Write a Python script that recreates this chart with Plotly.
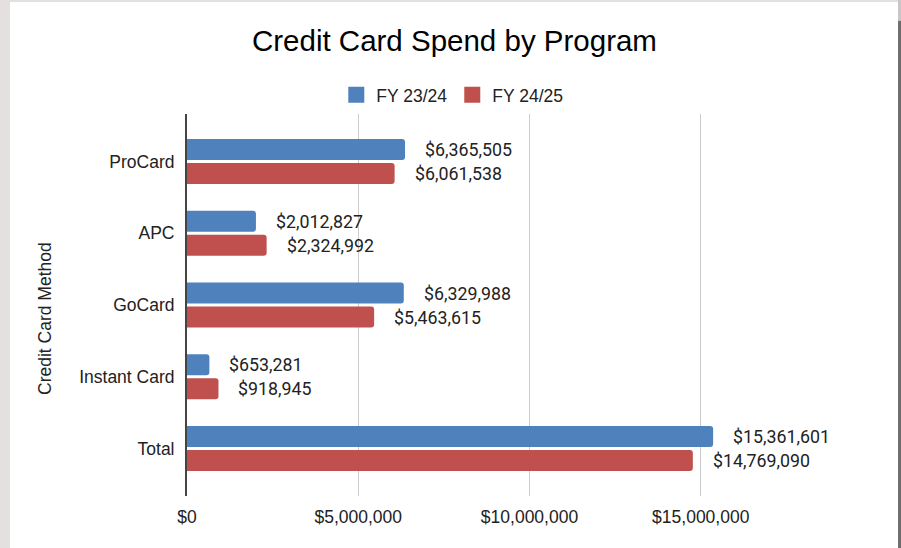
import plotly.graph_objects as go

# Spend per credit card program, two fiscal years
programs = ["ProCard", "APC", "GoCard", "Instant Card", "Total"]
fy_2324 = [6365505, 2012827, 6329988, 653281, 15361601]
fy_2425 = [6061538, 2324992, 5463615, 918945, 14769090]
series_names = ["FY 23/24", "FY 24/25"]
series_colors = ["#4F81BD", "#C0504D"]

x_ticks = [0, 5000000, 10000000, 15000000, 20000000]
x_tick_labels = ["$0", "$5,000,000", "$10,000,000", "$15,000,000", ""]

BAR_GAP = 0.331
BAR_GROUP_GAP = 0.125
ARIAL = "Liberation Sans, Arial, sans-serif"
ROBOTO = "Roboto, sans-serif"

fig = go.Figure()
for name, values, color in zip(series_names, [fy_2324, fy_2425], series_colors):
    fig.add_trace(go.Bar(
        y=programs, x=values, name=name, orientation="h",
        marker=dict(color=color, line=dict(width=0)),
        hoverinfo="x+name", showlegend=False, legendgroup=name,
    ))

# larger square swatches for the legend
for name, color in zip(series_names, series_colors):
    fig.add_trace(go.Scatter(
        x=[None], y=[None], mode="markers", name=name, legendgroup=name,
        marker=dict(symbol="square", size=16, color=color),
        hoverinfo="skip",
    ))

# value labels to the right of each bar
slot = (1 - BAR_GAP) / 2
for k, values in enumerate([fy_2324, fy_2425]):
    off = (k - 0.5) * slot
    for i, v in enumerate(values):
        fig.add_annotation(
            x=v, y=i + off, xref="x", yref="y",
            text=f"${v:,.0f}", showarrow=False,
            xanchor="left", yanchor="middle", xshift=18,
            font=dict(family=ROBOTO, size=17.8, color="#222222"),
        )

# vertical axis title
fig.add_annotation(
    x=-0.2073, y=0.466, xref="paper", yref="paper",
    text="Credit Card Method", textangle=-90, showarrow=False,
    xanchor="center", yanchor="middle",
    font=dict(family=ARIAL, size=17.5, color="#222222"),
)

# page frame around the chart card
frame = [
    dict(x0=-0.2730, x1=-0.2584, y0=-0.2, y1=1.31, color="#E4E0DF"),
    dict(x0=-0.2730, x1=1.05, y0=1.2932, y1=1.31, color="#E4E0DF"),
    dict(x0=1.038, x1=1.05, y0=-0.2, y1=1.245, color="#6E6E6E"),
    dict(x0=1.038, x1=1.05, y0=1.245, y1=1.31, color="#C8C6C6"),
]
for f in frame:
    fig.add_shape(type="rect", xref="paper", yref="paper",
                  x0=f["x0"], x1=f["x1"], y0=f["y0"], y1=f["y1"],
                  fillcolor=f["color"], line=dict(width=0), layer="above")

fig.update_layout(
    template="none",
    width=901, height=548,
    margin=dict(l=187, r=29, t=114, b=52, pad=0),
    paper_bgcolor="white", plot_bgcolor="white",
    barmode="group", bargap=BAR_GAP, bargroupgap=BAR_GROUP_GAP,
    barcornerradius=3,
    title=dict(
        text="Credit Card Spend by Program",
        x=0.5044, xref="container", xanchor="center",
        y=0.925, yref="container", yanchor="middle",
        font=dict(family=ARIAL, size=29.5, color="#000000"),
    ),
    legend=dict(
        orientation="h", xref="container", yref="container",
        x=0.502, xanchor="center", y=0.827, yanchor="middle",
        font=dict(family=ARIAL, size=17.5, color="#222222"),
        bgcolor="rgba(0,0,0,0)", itemclick=False, itemsizing="trace",
    ),
    xaxis=dict(
        range=[0, 20000000], tickvals=x_ticks, ticktext=x_tick_labels,
        showgrid=True, gridcolor="#CCCCCC", gridwidth=1,
        zeroline=False, showline=False, ticks="",
        tickfont=dict(family=ARIAL, size=17.5, color="#222222"),
        ticklabelstandoff=8,
    ),
    yaxis=dict(
        type="category", categoryorder="array", categoryarray=programs,
        range=[4.662, -0.662],
        showgrid=False, zeroline=False,
        showline=True, linecolor="#444444", linewidth=2,
        ticks="", ticklabelstandoff=7,
        tickfont=dict(family=ARIAL, size=17.5, color="#222222"),
    ),
    showlegend=True,
)

fig.write_html("out.html")
